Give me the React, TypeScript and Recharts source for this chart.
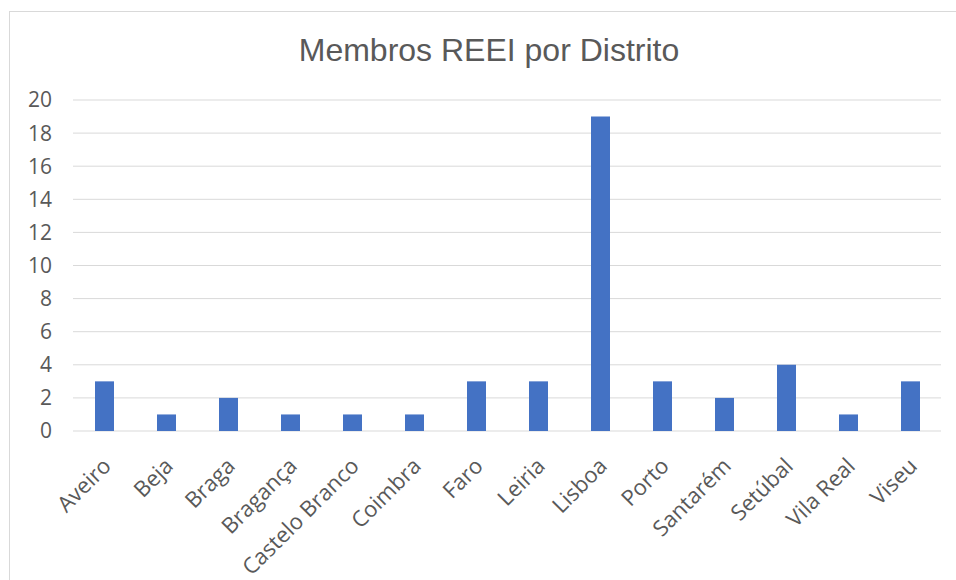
import React from 'react'
import { BarChart, Bar, XAxis, YAxis, CartesianGrid } from 'recharts'

const distritos = [
  'Aveiro', 'Beja', 'Braga', 'Bragança', 'Castelo Branco', 'Coimbra', 'Faro',
  'Leiria', 'Lisboa', 'Porto', 'Santarém', 'Setúbal', 'Vila Real', 'Viseu'
]
const membros = [3, 1, 2, 1, 1, 1, 3, 3, 19, 3, 2, 4, 1, 3]
const yTicks = [0, 2, 4, 6, 8, 10, 12, 14, 16, 18, 20]

const chartData = distritos.map((d, i) => ({ distrito: d, membros: membros[i] }))

const labelFont = '"Open Sans", sans-serif'
const textColor = '#595959'

const AngledTick = ({ x, y, payload }: any) => (
  <g transform={`translate(${x + 3},${y + 23})`}>
    <text
      x={0}
      y={0}
      dy="0.35em"
      textAnchor="end"
      transform="rotate(-45)"
      fill={textColor}
      fontSize={22}
      fontFamily={labelFont}
    >
      {payload.value}
    </text>
  </g>
)

export default function App() {
  return (
    <div>
      <style>{'body{margin:0;overflow:hidden;background:#fff}'}</style>
      <div
        style={{
          position: 'absolute',
          left: 9,
          top: 11,
          width: 960,
          height: 600,
          borderLeft: '1px solid #d9d9d9',
          borderTop: '1px solid #d9d9d9'
        }}
      />
      <div
        style={{
          position: 'absolute',
          left: 0,
          width: 978,
          top: 34,
          textAlign: 'center',
          fontFamily: '"Liberation Sans", Arial, sans-serif',
          fontSize: 32,
          lineHeight: '32px',
          color: textColor
        }}
      >
        Membros REEI por Distrito
      </div>
      <div style={{ position: 'absolute', left: 10, top: 12 }}>
        <BarChart
          width={946}
          height={568}
          data={chartData}
          margin={{ top: 88, right: 15, bottom: 9, left: 0 }}
        >
          <CartesianGrid vertical={false} stroke="#d9d9d9" />
          <XAxis
            dataKey="distrito"
            axisLine={false}
            tickLine={false}
            interval={0}
            height={140}
            tick={<AngledTick />}
          />
          <YAxis
            width={63}
            domain={[0, 20]}
            ticks={yTicks}
            axisLine={false}
            tickLine={false}
            tickMargin={15}
            tick={{ fill: textColor, fontSize: 21, fontFamily: labelFont }}
          />
          <Bar dataKey="membros" fill="#4472C4" barSize={19} isAnimationActive={false} />
        </BarChart>
      </div>
    </div>
  )
}
